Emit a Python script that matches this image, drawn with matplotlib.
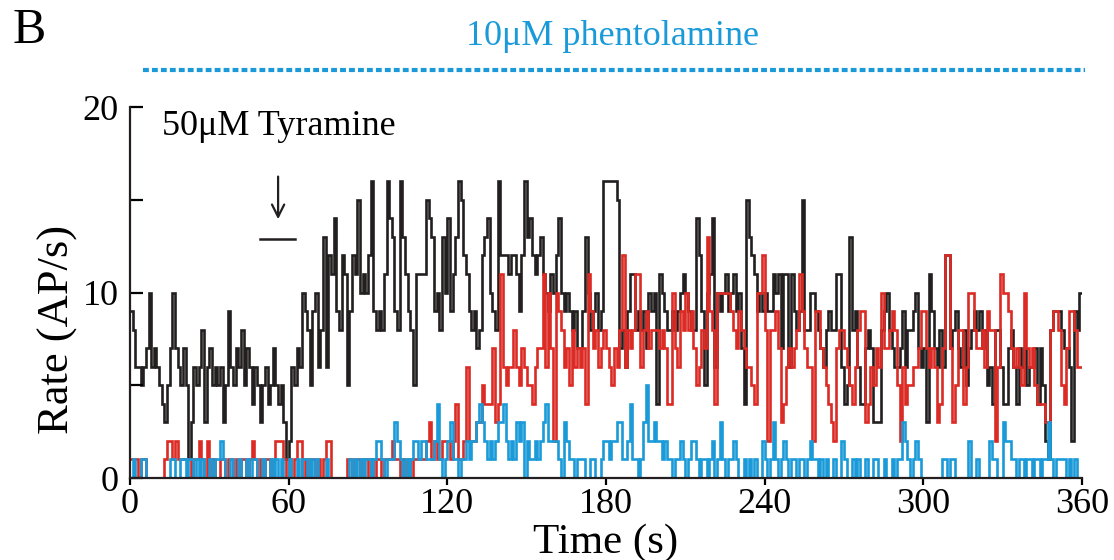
import numpy as np
import matplotlib
matplotlib.use('Agg')
import matplotlib.pyplot as plt

plt.rcParams['font.family'] = ['Liberation Serif', 'DejaVu Serif']

# Spike rate per 1 s bin (AP/s)
black = [
    9, 8, 6, 6, 5, 6, 7, 10, 6, 7,
    6, 5, 4, 3, 5, 7, 10, 7, 6, 5,
    7, 5, 1, 3, 6, 5, 6, 8, 3, 6,
    7, 5, 6, 5, 6, 3, 5, 9, 6, 5,
    7, 6, 8, 5, 7, 6, 4, 6, 5, 3,
    5, 6, 4, 5, 7, 5, 4, 5, 3, 1,
    2, 6, 5, 7, 6, 10, 9, 8, 5, 9,
    10, 6, 8, 13, 6, 12, 11, 14, 9, 8,
    12, 11, 5, 9, 12, 11, 15, 10, 11, 10,
    12, 16, 9, 8, 9, 8, 11, 16, 14, 13,
    9, 8, 16, 13, 11, 9, 8, 5, 11, 11,
    11, 11, 15, 14, 13, 9, 10, 8, 13, 10,
    14, 9, 11, 13, 16, 15, 12, 11, 9, 8,
    9, 7, 8, 12, 13, 14, 10, 9, 8, 16,
    12, 12, 12, 11, 12, 12, 11, 9, 12, 16,
    13, 14, 12, 11, 12, 13, 11, 10, 9, 11,
    10, 12, 14, 10, 9, 10, 9, 8, 9, 7,
    7, 9, 13, 10, 8, 9, 10, 8, 9, 16,
    16, 16, 16, 16, 15, 7, 8, 6, 9, 11,
    11, 8, 9, 8, 9, 7, 10, 9, 10, 4,
    11, 10, 9, 8, 8, 9, 8, 9, 10, 11,
    10, 9, 8, 8, 14, 12, 9, 5, 10, 11,
    14, 6, 10, 9, 10, 11, 9, 10, 11, 9,
    10, 7, 4, 15, 13, 12, 11, 9, 10, 9,
    10, 9, 9, 11, 10, 11, 7, 11, 11, 6,
    11, 9, 8, 9, 15, 8, 8, 10, 10, 9,
    8, 7, 6, 8, 9, 8, 8, 11, 11, 6,
    4, 5, 13, 8, 9, 6, 4, 4, 7, 8,
    7, 3, 3, 3, 8, 9, 10, 8, 7, 6,
    6, 7, 9, 6, 8, 8, 9, 10, 7, 6,
    7, 3, 11, 9, 7, 6, 8, 6, 12, 12,
    7, 8, 9, 7, 6, 8, 5, 7, 8, 9,
    8, 9, 7, 8, 5, 6, 4, 8, 8, 6,
    4, 4, 7, 8, 6, 4, 7, 6, 7, 5,
    6, 6, 7, 4, 7, 5, 2, 1, 8, 9,
    9, 9, 8, 7, 7, 6, 2, 9, 8, 10,
]

red = [
    1, 1, 1, 0, 1, 1, 0, 0, 0, 0,
    0, 0, 0, 1, 2, 2, 1, 2, 1, 1,
    1, 1, 1, 0, 1, 1, 2, 1, 0, 2,
    0, 1, 0, 0, 1, 1, 0, 1, 1, 0,
    1, 0, 1, 1, 0, 1, 2, 1, 0, 1,
    0, 1, 1, 0, 1, 2, 2, 2, 1, 0,
    1, 0, 1, 2, 2, 0, 1, 0, 1, 1,
    0, 1, 0, 1, 2, 2, 0, 0, 0, 0,
    0, 0, 1, 1, 0, 1, 1, 0, 1, 1,
    0, 1, 0, 1, 1, 0, 1, 1, 1, 2,
    1, 1, 0, 1, 0, 1, 0, 1, 1, 1,
    1, 1, 2, 3, 1, 2, 1, 1, 2, 2,
    2, 1, 2, 4, 1, 1, 2, 6, 2, 2,
    2, 3, 3, 5, 4, 4, 4, 7, 3, 4,
    11, 6, 5, 6, 6, 8, 6, 5, 7, 6,
    5, 5, 4, 6, 7, 7, 11, 6, 10, 7,
    2, 10, 9, 8, 6, 7, 5, 8, 6, 7,
    6, 7, 4, 11, 9, 7, 8, 6, 7, 8,
    7, 6, 5, 7, 6, 8, 12, 6, 8, 7,
    8, 11, 11, 6, 8, 9, 7, 8, 8, 8,
    7, 8, 7, 4, 4, 10, 7, 6, 9, 8,
    10, 8, 9, 7, 5, 6, 8, 7, 13, 9,
    8, 4, 10, 10, 10, 10, 10, 9, 8, 7,
    9, 8, 7, 6, 6, 5, 4, 10, 10, 12,
    8, 2, 8, 8, 9, 7, 3, 4, 6, 7,
    6, 7, 8, 11, 9, 7, 6, 6, 2, 9,
    9, 7, 6, 5, 4, 3, 2, 7, 8, 8,
    7, 6, 5, 4, 6, 8, 9, 9, 3, 4,
    6, 5, 7, 6, 10, 7, 7, 8, 9, 8,
    5, 2, 6, 4, 5, 5, 6, 6, 7, 9,
    9, 7, 6, 7, 6, 3, 4, 7, 12, 12,
    7, 3, 5, 8, 8, 4, 6, 10, 10, 8,
    7, 7, 8, 6, 9, 8, 8, 2, 6, 11,
    10, 10, 9, 7, 6, 7, 6, 5, 10, 7,
    6, 7, 5, 4, 4, 4, 3, 3, 8, 9,
    9, 8, 5, 4, 7, 9, 9, 8, 6, 6,
]

blue = [
    0, 1, 0, 0, 1, 1, 0, 0, 0, 0,
    0, 0, 0, 0, 0, 1, 1, 0, 0, 1,
    1, 0, 1, 1, 0, 1, 0, 1, 0, 0,
    1, 0, 1, 1, 2, 1, 0, 0, 1, 0,
    0, 1, 0, 0, 1, 0, 1, 1, 0, 0,
    1, 0, 0, 1, 0, 1, 0, 1, 0, 0,
    1, 0, 0, 1, 0, 1, 1, 0, 1, 0,
    1, 0, 0, 0, 1, 0, 0, 0, 0, 0,
    0, 0, 0, 1, 0, 1, 0, 1, 0, 1,
    1, 0, 1, 2, 2, 1, 0, 1, 1, 1,
    3, 2, 1, 0, 1, 0, 1, 2, 2, 1,
    2, 2, 1, 1, 1, 2, 4, 1, 0, 1,
    2, 3, 1, 1, 0, 1, 1, 2, 1, 2,
    2, 3, 4, 3, 2, 1, 2, 1, 2, 3,
    3, 4, 2, 1, 2, 1, 3, 2, 3, 0,
    2, 1, 1, 2, 1, 2, 3, 4, 2, 2,
    2, 2, 1, 0, 3, 2, 1, 1, 0, 1,
    1, 1, 0, 0, 1, 1, 0, 0, 1, 2,
    2, 1, 2, 2, 3, 3, 1, 1, 2, 4,
    1, 1, 0, 1, 3, 5, 2, 2, 3, 2,
    2, 1, 2, 1, 1, 0, 1, 1, 2, 1,
    0, 1, 2, 2, 1, 0, 1, 1, 0, 1,
    2, 0, 1, 3, 1, 0, 1, 1, 2, 1,
    0, 0, 1, 0, 1, 0, 1, 0, 0, 2,
    1, 0, 1, 3, 1, 0, 1, 2, 1, 0,
    1, 1, 0, 1, 1, 0, 1, 2, 1, 1,
    0, 1, 0, 1, 0, 0, 1, 0, 0, 2,
    1, 0, 0, 1, 0, 1, 0, 0, 1, 0,
    0, 1, 1, 0, 0, 1, 0, 0, 1, 0,
    1, 1, 3, 2, 1, 0, 1, 2, 1, 0,
    0, 0, 0, 0, 0, 0, 0, 1, 1, 0,
    1, 1, 0, 0, 0, 0, 0, 2, 0, 0,
    1, 0, 0, 0, 0, 2, 1, 1, 0, 0,
    3, 2, 2, 1, 1, 0, 1, 1, 0, 1,
    1, 0, 1, 1, 0, 1, 1, 3, 1, 0,
    1, 1, 1, 1, 0, 1, 0, 1, 0, 0,
]

edges = np.arange(0, len(black) + 1)
x_ticks = [0, 60, 120, 180, 240, 300, 360]

c_black = '#231f20'
c_red = '#dc2a24'
c_blue = '#1a9ad8'

fig = plt.figure(figsize=(11.14, 5.6), dpi=100)
ax = fig.add_axes([0.1167, 0.1464, 0.8546, 0.6625])

ax.stairs(black, edges, baseline=None, color=c_black, lw=1.9)
ax.stairs(red, edges, baseline=None, color=c_red, lw=1.9)
ax.stairs(blue, edges, baseline=None, color=c_blue, lw=1.9)

ax.set_xlim(0, 360)
ax.set_ylim(0, 20)
ax.spines['top'].set_visible(False)
ax.spines['right'].set_visible(False)
ax.spines['left'].set_linewidth(1.6)
ax.spines['bottom'].set_linewidth(1.6)
ax.spines['left'].set_color(c_black)
ax.spines['bottom'].set_color(c_black)

ax.set_xticks(x_ticks)
ax.set_yticks([0, 10, 20])
ax.set_yticks([5, 15], minor=True)
ax.tick_params(axis='y', which='both', direction='in', length=9, width=1.6, labelsize=26, pad=8)
ax.tick_params(axis='x', direction='out', length=5, width=1.6, labelsize=26, pad=2)

ax.set_xlabel('Time (s)', fontsize=31, labelpad=2)
ax.set_ylabel('Rate (AP/s)', fontsize=32)
ax.yaxis.set_label_coords(-0.055, 0.40)

# annotations
ax.text(12, 18.95, '50μM Tyramine', fontsize=26, ha='left', va='center')
ax.annotate('', xy=(56, 13.8), xytext=(56, 16.4),
            arrowprops=dict(arrowstyle='->', color=c_black, lw=1.6, mutation_scale=22))
ax.plot([49, 62.5], [12.9, 12.9], color=c_black, lw=1.8)

ax.plot([0.014, 1.003], [1.10, 1.10], transform=ax.transAxes, clip_on=False,
        color=c_blue, lw=3, linestyle=(0, (1.4, 0.75)))
ax.text(0.507, 1.19, '10μM phentolamine', transform=ax.transAxes, color=c_blue,
        fontsize=26, ha='center', va='center')

fig.text(0.011, 0.945, 'B', fontsize=36, ha='left', va='center')

fig.savefig('out.png', dpi=100)
